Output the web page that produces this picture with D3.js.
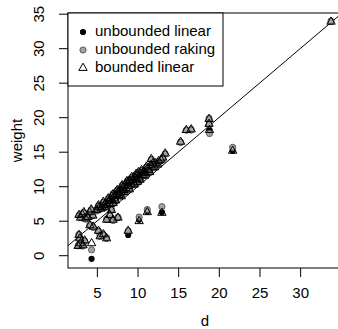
<!DOCTYPE html>
<html>
<head>
<meta charset="utf-8">
<script src="https://cdn.jsdelivr.net/npm/d3@7"></script>
<style>
  body { margin: 0; background: #fff; }
  svg { display: block; font-family: "Liberation Sans", Arial, sans-serif; }
</style>
</head>
<body>
<div id="chart"></div>
<script>
// design weight d and the three calibrated weights, one entry per unit
const dVals = [33.8, 21.7, 18.8, 18.8, 18.85, 16.0, 16.6, 15.3, 13.4, 13.0, 11.2, 10.2, 8.85, 4.35,
  2.8, 3.0, 3.2, 3.6, 3.9, 4.1, 4.3, 4.5, 3.4,
  2.8, 2.9, 3.0, 3.3, 2.7, 3.5,
  4.15, 4.55, 5.2, 5.4, 5.8, 6.2, 6.2, 6.6, 7.0, 7.6, 6.8,
  5.0, 5.3, 5.6, 5.9, 6.1, 6.3, 6.5, 6.7, 6.9, 7.0, 7.1, 7.2, 7.4, 7.6, 7.7, 7.9, 8.0, 8.0,
  8.2, 8.3, 8.5, 8.6, 8.8, 8.9, 9.0, 9.1, 9.2, 9.4, 9.5, 9.7, 9.9, 10.0, 10.0, 10.2, 10.4,
  10.6, 10.8, 11.0, 11.2, 11.4, 11.6, 11.7, 11.8, 12.2, 12.5, 12.9,
  5.2, 5.5, 5.8, 6.0, 6.4, 6.6, 6.8, 7.0, 7.3, 7.5, 7.8, 8.1, 8.4, 8.7, 9.0, 9.3, 9.6, 9.8,
  10.1, 10.3, 10.5, 10.9, 11.1, 11.5, 11.9, 12.1, 12.6, 13.1];
const linearW = [33.9, 15.2, 19.8, 19.1, 18.2, 18.2, 18.3, 16.5, 14.8, 6.3, 6.4, 5.2, 3.0, -0.45,
  5.9, 5.5, 6.0, 5.4, 5.6, 6.3, 6.7, 5.8, 6.3,
  3.0, 2.5, 1.8, 1.5, 1.4, 2.2,
  4.4, 4.2, 3.6, 2.8, 3.1, 2.5, 5.2, 5.9, 5.2, 5.5, 6.6,
  6.6, 7.0, 7.1, 7.3, 7.6, 7.4, 7.9, 8.2, 8.0, 7.6, 8.6, 8.3, 8.9, 9.2, 8.8, 9.6, 9.3, 8.6,
  9.9, 9.5, 10.3, 9.8, 10.5, 10.1, 9.6, 10.8, 10.4, 11.0, 10.6, 11.3, 11.1, 11.6, 10.7, 11.3, 11.9,
  11.7, 12.2, 12.0, 12.6, 12.4, 13.1, 14.0, 12.9, 13.4, 13.2, 13.9,
  7.3, 6.8, 7.8, 7.0, 8.3, 7.5, 8.6, 8.9, 8.0, 9.5, 9.0, 10.2, 9.2, 10.8, 10.9, 11.4, 10.3, 11.8,
  12.1, 11.0, 12.4, 11.6, 12.9, 12.1, 13.4, 12.8, 13.7, 14.2];
const rakingW = [34.0, 15.7, 19.9, 19.0, 17.7, 18.2, 18.2, 16.4, 14.7, 7.1, 6.7, 5.6, 3.6, 0.85,
  5.8, 5.6, 6.1, 5.3, 5.7, 6.2, 6.6, 5.9, 6.2,
  3.1, 2.4, 1.9, 1.4, 1.5, 2.1,
  4.5, 4.1, 3.5, 2.9, 3.0, 2.6, 5.3, 5.8, 5.1, 5.6, 6.7,
  6.5, 7.1, 7.0, 7.4, 7.5, 7.5, 7.8, 8.3, 8.1, 7.7, 8.5, 8.4, 8.8, 9.3, 8.9, 9.5, 9.4, 8.7,
  9.8, 9.6, 10.2, 9.9, 10.4, 10.2, 9.7, 10.7, 10.5, 10.9, 10.7, 11.2, 11.2, 11.5, 10.8, 11.4, 11.8,
  11.8, 12.1, 12.1, 12.5, 12.5, 13.0, 13.9, 13.0, 13.3, 13.3, 13.8,
  7.2, 6.9, 7.7, 7.1, 8.2, 7.6, 8.5, 9.0, 8.1, 9.4, 9.1, 10.1, 9.3, 10.7, 11.0, 11.3, 10.4, 11.7,
  12.0, 11.1, 12.3, 11.7, 12.8, 12.2, 13.3, 12.9, 13.6, 14.1];
const boundedW = [33.9, 15.2, 19.8, 19.1, 18.2, 18.2, 18.3, 16.5, 14.8, 6.2, 6.3, 5.0, 3.6, 1.8,
  5.9, 5.5, 6.0, 5.4, 5.6, 6.3, 6.7, 5.8, 6.3,
  3.0, 2.5, 1.8, 1.5, 1.4, 2.2,
  4.4, 4.2, 3.6, 2.8, 3.1, 2.5, 5.2, 5.9, 5.2, 5.5, 6.6,
  6.6, 7.0, 7.1, 7.3, 7.6, 7.4, 7.9, 8.2, 8.0, 7.6, 8.6, 8.3, 8.9, 9.2, 8.8, 9.6, 9.3, 8.6,
  9.9, 9.5, 10.3, 9.8, 10.5, 10.1, 9.6, 10.8, 10.4, 11.0, 10.6, 11.3, 11.1, 11.6, 10.7, 11.3, 11.9,
  11.7, 12.2, 12.0, 12.6, 12.4, 13.1, 14.0, 12.9, 13.4, 13.2, 13.9,
  7.3, 6.8, 7.8, 7.0, 8.3, 7.5, 8.6, 8.9, 8.0, 9.5, 9.0, 10.2, 9.2, 10.8, 10.9, 11.4, 10.3, 11.8,
  12.1, 11.0, 12.4, 11.6, 12.9, 12.1, 13.4, 12.8, 13.7, 14.2];

const xTicks = [5, 10, 15, 20, 25, 30];
const yTicks = [0, 5, 10, 15, 20, 25, 30, 35];
const legendLabels = ["unbounded linear", "unbounded raking", "bounded linear"];

const width = 338, height = 329;
const plot = { left: 68, top: 13, right: 342, bottom: 268 };
const r = 3.1;

const svg = d3.select("#chart").append("svg")
  .attr("width", width)
  .attr("height", height);

const x = d3.scaleLinear().domain([1.45, 35.15]).range([plot.left, plot.right]);
const y = d3.scaleLinear().domain([-1.78, 35.17]).range([plot.bottom, plot.top]);

svg.append("clipPath").attr("id", "plotClip")
  .append("rect")
  .attr("x", plot.left).attr("y", plot.top)
  .attr("width", plot.right - plot.left).attr("height", plot.bottom - plot.top);

// axes (the box draws the axis lines)
const xAxis = svg.append("g")
  .attr("transform", `translate(0,${plot.bottom})`)
  .call(d3.axisBottom(x).tickValues(xTicks).tickSize(9).tickPadding(10).tickSizeOuter(0));
const yAxis = svg.append("g")
  .attr("transform", `translate(${plot.left},0)`)
  .call(d3.axisLeft(y).tickValues(yTicks).tickSize(9).tickSizeOuter(0));

[xAxis, yAxis].forEach(g => {
  g.select(".domain").remove();
  g.selectAll("line").attr("stroke", "#000");
  g.selectAll("text").attr("fill", "#000").style("font-size", "15px")
    .style("font-family", '"Liberation Sans", Arial, sans-serif');
});
// R style: y tick labels parallel to the axis
yAxis.selectAll("text")
  .attr("x", null).attr("dy", null)
  .attr("text-anchor", "middle")
  .attr("transform", d => `translate(-28,${y(d)}) rotate(-90)`)
  .attr("y", 0)
  .attr("dominant-baseline", "middle");
yAxis.selectAll(".tick").attr("transform", null);
yAxis.selectAll(".tick line").attr("transform", d => `translate(0,${y(d)})`);

// reference line weight = d
svg.append("line")
  .attr("clip-path", "url(#plotClip)")
  .attr("x1", x(0)).attr("y1", y(0))
  .attr("x2", x(40)).attr("y2", y(40))
  .attr("stroke", "#000").attr("stroke-width", 1);

const pts = svg.append("g").attr("clip-path", "url(#plotClip)");

const triPath = `M0,${-1.555 * r}L${1.347 * r},${0.778 * r}L${-1.347 * r},${0.778 * r}Z`;

pts.selectAll("circle.lin")
  .data(dVals)
  .enter().append("circle")
  .attr("class", "lin")
  .attr("cx", d => x(d))
  .attr("cy", (d, i) => y(linearW[i]))
  .attr("r", r)
  .attr("fill", "#000");

pts.selectAll("circle.rake")
  .data(dVals)
  .enter().append("circle")
  .attr("class", "rake")
  .attr("cx", d => x(d))
  .attr("cy", (d, i) => y(rakingW[i]))
  .attr("r", r)
  .attr("fill", "#a3a3a3")
  .attr("stroke", "#5a5a5a")
  .attr("stroke-width", 1);

pts.selectAll("path.bnd")
  .data(dVals)
  .enter().append("path")
  .attr("class", "bnd")
  .attr("d", triPath)
  .attr("transform", (d, i) => `translate(${x(d)},${y(boundedW[i])})`)
  .attr("fill", "none")
  .attr("stroke", "#000")
  .attr("stroke-width", 1);

// plot box
svg.append("rect")
  .attr("x", plot.left).attr("y", plot.top)
  .attr("width", plot.right - plot.left).attr("height", plot.bottom - plot.top)
  .attr("fill", "none").attr("stroke", "#000").attr("stroke-width", 1);

// legend
const leg = svg.append("g");
leg.append("rect")
  .attr("x", plot.left).attr("y", plot.top)
  .attr("width", 155).attr("height", 73)
  .attr("fill", "#fff").attr("stroke", "#000").attr("stroke-width", 1);

const legY = d3.scalePoint().domain(legendLabels).range([32, 68]);
leg.selectAll("text")
  .data(legendLabels)
  .enter().append("text")
  .attr("x", 95)
  .attr("y", d => legY(d))
  .attr("dominant-baseline", "middle")
  .style("font-size", "15px")
  .text(d => d);

leg.append("circle").attr("cx", 83).attr("cy", legY(legendLabels[0])).attr("r", r).attr("fill", "#000");
leg.append("circle").attr("cx", 83).attr("cy", legY(legendLabels[1])).attr("r", r)
  .attr("fill", "#a3a3a3").attr("stroke", "#5a5a5a");
leg.append("path").attr("d", triPath)
  .attr("transform", `translate(83,${legY(legendLabels[2])})`)
  .attr("fill", "none").attr("stroke", "#000");

// axis titles
svg.append("text")
  .attr("x", (plot.left + plot.right) / 2).attr("y", 322)
  .attr("text-anchor", "middle").attr("dominant-baseline", "middle")
  .style("font-size", "15px")
  .text("d");
svg.append("text")
  .attr("transform", `translate(18,${(plot.top + plot.bottom) / 2}) rotate(-90)`)
  .attr("text-anchor", "middle").attr("dominant-baseline", "middle")
  .style("font-size", "15px")
  .text("weight");
</script>
</body>
</html>
